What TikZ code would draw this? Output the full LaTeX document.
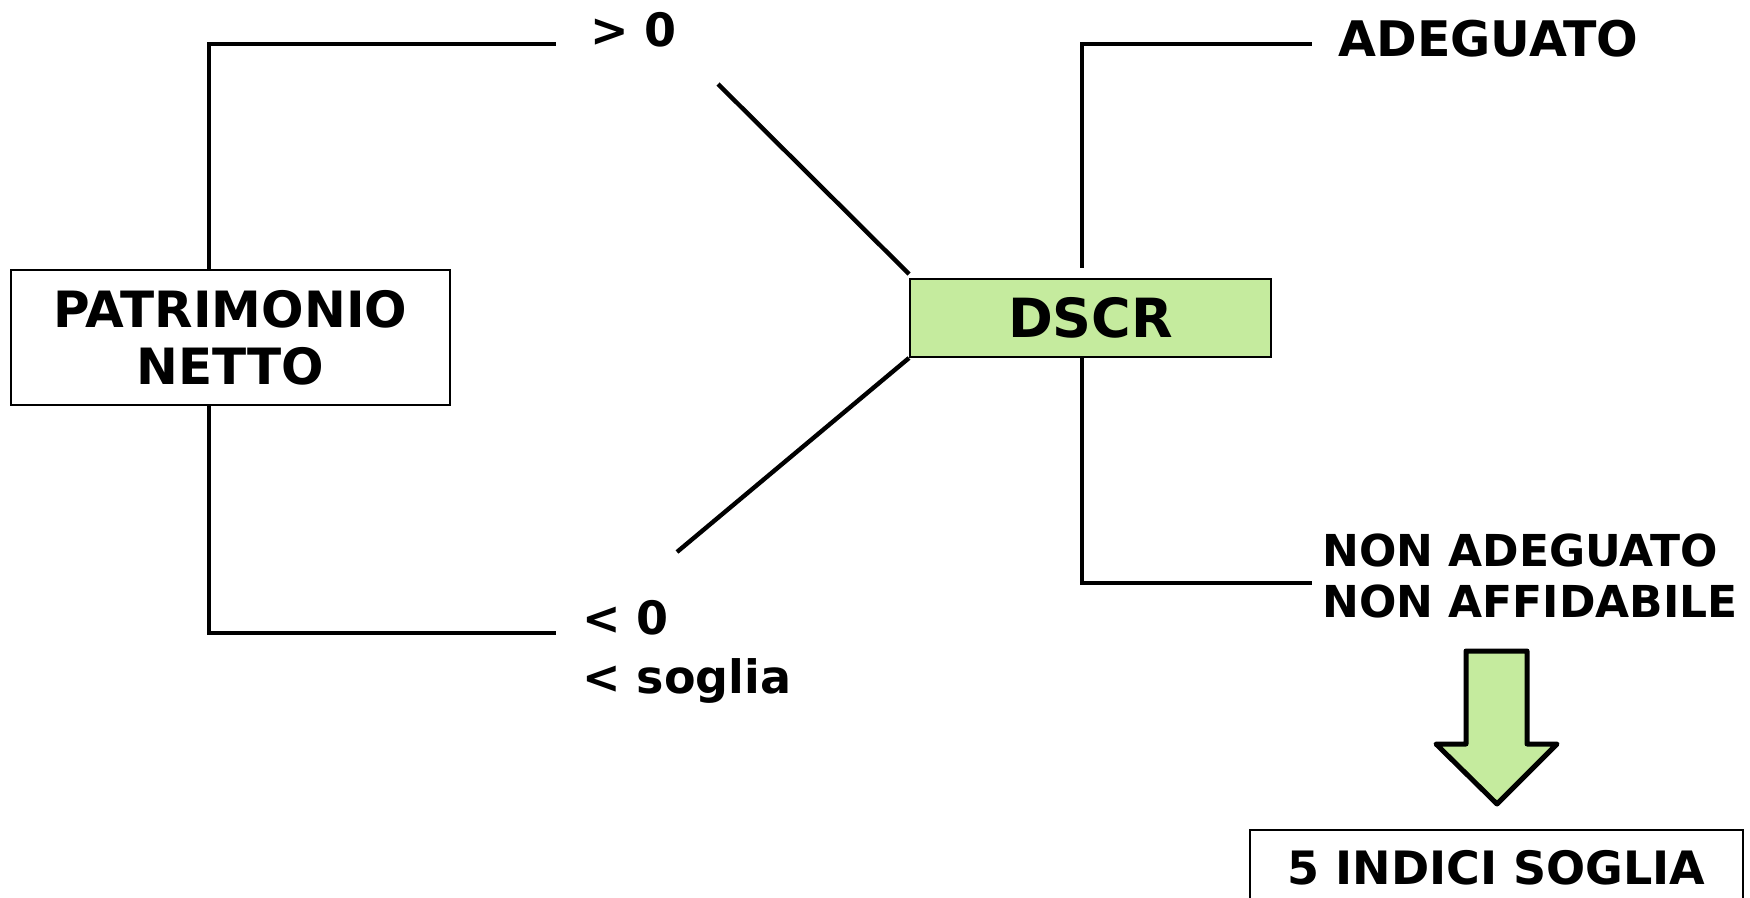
\documentclass[tikz,border=0pt]{standalone}
\usepackage{fontspec}
\setmainfont{DejaVu Sans}
\usetikzlibrary{positioning}
\definecolor{dscrgreen}{RGB}{197,235,158}
\tikzset{
  box/.style={draw, line width=1pt, align=center, inner sep=0pt},
  branch/.style={line width=2.2pt},
  lbl/.style={anchor=west, inner sep=0pt, align=left, font=\bfseries\fontsize{23}{29.5}\selectfont}
}

\begin{document}
\begin{tikzpicture}[x=0.5pt, y=-0.5pt]
  \clip (0,0) rectangle (1750,898);
  %boxes
  \node[box, minimum width=219.5pt, minimum height=67.5pt, font=\bfseries\fontsize{25}{28.5}\selectfont] (pn) at (230.5,337.5) {PATRIMONIO\\NETTO};
  \node[box, fill=dscrgreen, minimum width=180.5pt, minimum height=39pt, font=\bfseries\fontsize{27}{30}\selectfont] (dscr) at (1090.5,318) {DSCR};
  \node[box, minimum width=246.5pt, minimum height=38pt, font=\bfseries\fontsize{23}{27}\selectfont] (soglia) at (1496.5,868) {5 INDICI SOGLIA};
  %labels
  \node[lbl] (gt) at (590,30) {> 0};
  \node[lbl] (lt) at (582,652) {< 0\\< soglia};
  \node[lbl, font=\bfseries\fontsize{24.5}{28}\selectfont] (ad) at (1338,39) {ADEGUATO};
  \node[lbl, font=\bfseries\fontsize{22}{25.5}\selectfont] (nad) at (1322,576) {NON ADEGUATO\\NON AFFIDABILE};
  %branch ends
  \coordinate (pnx) at (209,0);
  \coordinate (gtend) at (556,44);
  \coordinate (ltend) at (556,633);
  \coordinate (gtlink) at (718,84);
  \coordinate (ltlink) at (677,552);
  \coordinate (rx) at (1082,0);
  \coordinate (adend) at (1312,44);
  \coordinate (nadend) at (1312,583);
  %patrimonio netto
  \draw[branch] (pn.north -| pnx) |- (gtend);
  \draw[branch] (pn.south -| pnx) |- (ltend);
  %dscr
  \draw[branch] (gtlink) -- ([yshift=2pt]dscr.north west);
  \draw[branch] (ltlink) -- (dscr.south west);
  \draw[branch] ([yshift=5pt]dscr.north -| rx) |- (adend);
  \draw[branch] (dscr.south -| rx) |- (nadend);
  %arrow
  \draw[line width=2.5pt, line join=round, fill=dscrgreen] (1466,651) -- (1527,651) -- (1527,744) -- (1557,744) -- (1497,804) -- (1436,744) -- (1466,744) -- cycle;
\end{tikzpicture}
\end{document}
